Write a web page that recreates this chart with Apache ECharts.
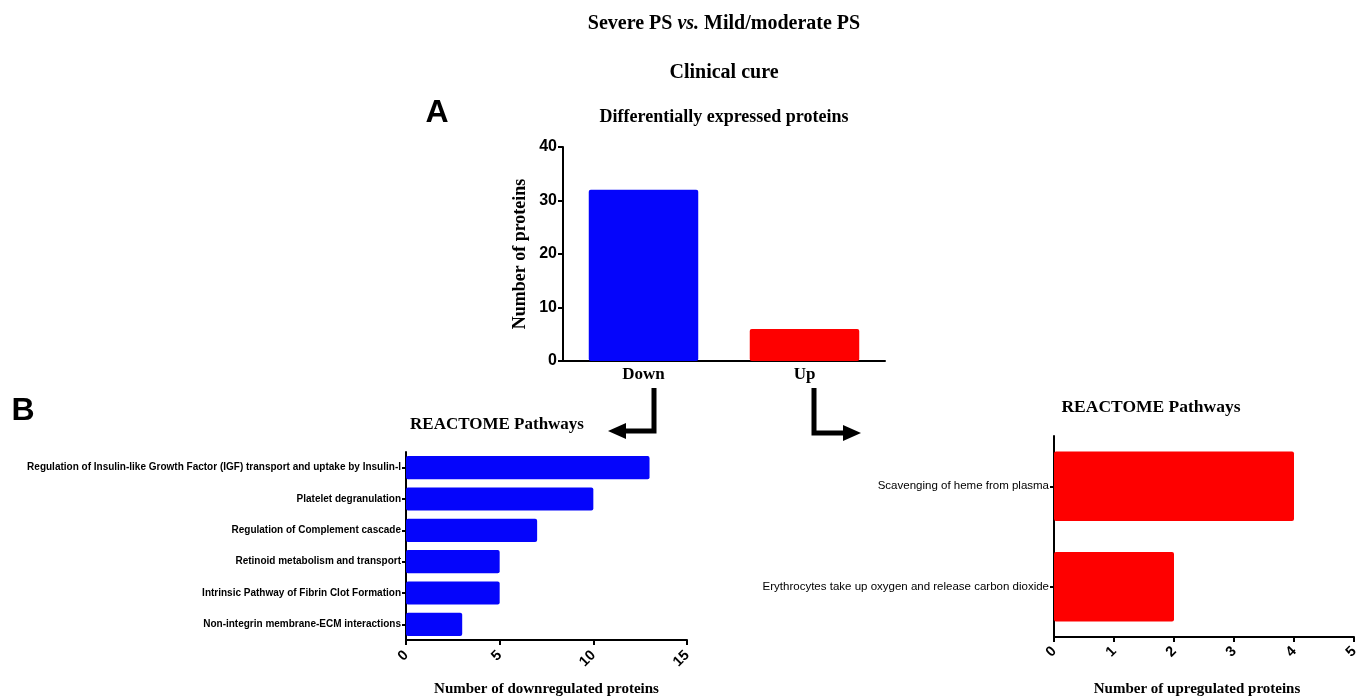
<!DOCTYPE html>
<html>
<head>
<meta charset="utf-8">
<script src="https://cdn.jsdelivr.net/npm/echarts@6/dist/echarts.min.js"></script>
<style>
html,body{margin:0;padding:0;background:#fff;}
#chart{width:1365px;height:698px;}
</style>
</head>
<body>
<div id="chart"></div>
<script>
// ---- Data ----
const deCategories = ['Down', 'Up'];
const deValues = [32, 6];
const deTicks = [0, 10, 20, 30, 40];

const downPathways = [
  'Regulation of Insulin-like Growth Factor (IGF) transport and uptake by Insulin-l',
  'Platelet degranulation',
  'Regulation of Complement cascade',
  'Retinoid metabolism and transport',
  'Intrinsic Pathway of Fibrin Clot Formation',
  'Non-integrin membrane-ECM interactions'
];
const downValues = [13, 10, 7, 5, 5, 3];

const upPathways = [
  'Scavenging of heme from plasma',
  'Erythrocytes take up oxygen and release carbon dioxide'
];
const upValues = [4, 2];

const BLUE = '#0505fb';
const RED = '#fe0000';
const SERIF = '"Liberation Serif", "Times New Roman", serif';
const SANS = '"Liberation Sans", Arial, sans-serif';

const chart = echarts.init(document.getElementById('chart'));

const axisLineStyle = { show: true, lineStyle: { color: '#000', width: 2 } };
const tickStyle = { show: true, length: 5, lineStyle: { color: '#000', width: 2 } };

function ttl(text, left, top, size, family, extra) {
  return Object.assign({ text: text, left: left, top: top, textAlign: 'center', padding: 0,
    textStyle: { fontFamily: family, fontWeight: 'bold', fontSize: size, color: '#000' } }, extra || {});
}

const option = {
  backgroundColor: '#fff',
  animation: false,
  title: [
    ttl('Severe PS {i|vs.} Mild/moderate PS', 724, 14, 20, SERIF, {
      textStyle: { fontFamily: SERIF, fontWeight: 'bold', fontSize: 20, color: '#000',
        rich: { i: { fontFamily: SERIF, fontWeight: 'bold', fontStyle: 'italic', fontSize: 20, color: '#000' } } } }),
    ttl('Clinical cure', 724, 63, 20, SERIF),
    ttl('A', 437, 97, 32, SANS),
    ttl('B', 23, 395, 32, SANS),
    ttl('Differentially expressed proteins', 724, 108, 18, SERIF),
    ttl('REACTOME Pathways', 497, 416, 17, SERIF),
    ttl('REACTOME Pathways', 1151, 398, 17.5, SERIF)
  ],
  grid: [
    { left: 563, top: 147, width: 322, height: 214, outerBoundsMode: 'none', containLabel: false },
    { left: 406, top: 452, width: 281, height: 188, outerBoundsMode: 'none', containLabel: false },
    { left: 1054, top: 436, width: 300, height: 201, outerBoundsMode: 'none', containLabel: false }
  ],
  xAxis: [
    { gridIndex: 0, type: 'category', data: deCategories,
      axisLine: axisLineStyle, axisTick: { show: false },
      axisLabel: { fontFamily: SERIF, fontWeight: 'bold', fontSize: 17, color: '#000', margin: 5 } },
    { gridIndex: 1, type: 'value', min: 0, max: 15, interval: 5,
      axisLine: axisLineStyle, axisTick: tickStyle, splitLine: { show: false },
      axisLabel: { rotate: 45, fontFamily: SANS, fontWeight: 'bold', fontSize: 14.5, color: '#000', margin: 13 },
      name: 'Number of downregulated proteins', nameLocation: 'middle', nameGap: 42,
      nameTextStyle: { fontFamily: SERIF, fontWeight: 'bold', fontSize: 15, color: '#000' } },
    { gridIndex: 2, type: 'value', min: 0, max: 5, interval: 1,
      axisLine: axisLineStyle, axisTick: tickStyle, splitLine: { show: false },
      axisLabel: { rotate: 45, fontFamily: SANS, fontWeight: 'bold', fontSize: 14.5, color: '#000', margin: 12 },
      name: 'Number of upregulated proteins', nameLocation: 'middle', nameGap: 45,
      nameTextStyle: { fontFamily: SERIF, fontWeight: 'bold', fontSize: 15, color: '#000', padding: [0, 14, 0, 0] } }
  ],
  yAxis: [
    { gridIndex: 0, type: 'value', min: deTicks[0], max: deTicks[deTicks.length - 1], interval: 10,
      axisLine: axisLineStyle, axisTick: tickStyle, splitLine: { show: false },
      axisLabel: { fontFamily: SANS, fontWeight: 'bold', fontSize: 16, color: '#000', margin: 6 },
      name: 'Number of proteins', nameLocation: 'middle', nameGap: 34,
      nameTextStyle: { fontFamily: SERIF, fontWeight: 'bold', fontSize: 18, color: '#000' } },
    { gridIndex: 1, type: 'category', data: downPathways, inverse: true,
      axisLine: axisLineStyle, axisTick: { show: true, alignWithLabel: true, length: 4, lineStyle: { color: '#000', width: 2 } },
      axisLabel: { fontFamily: SANS, fontWeight: 'bold', fontSize: 10, color: '#000', margin: 5 } },
    { gridIndex: 2, type: 'category', data: upPathways, inverse: true,
      axisLine: axisLineStyle, axisTick: { show: true, alignWithLabel: true, length: 4, lineStyle: { color: '#000', width: 2 } },
      axisLabel: { fontFamily: SANS, fontWeight: 'normal', fontSize: 11.5, color: '#000', margin: 5 } }
  ],
  series: [
    { type: 'bar', xAxisIndex: 0, yAxisIndex: 0, data: deValues.map((v, i) => ({ value: v, itemStyle: { color: i === 0 ? BLUE : RED } })),
      barWidth: '68%', itemStyle: { borderRadius: 2 } },
    { type: 'bar', xAxisIndex: 1, yAxisIndex: 1, data: downValues, barWidth: '74%',
      itemStyle: { color: BLUE, borderRadius: 2 } },
    { type: 'bar', xAxisIndex: 2, yAxisIndex: 2, data: upValues, barWidth: '69%',
      itemStyle: { color: RED, borderRadius: 2 } }
  ],
  graphic: [
    // Down arrow
    { type: 'polyline', shape: { points: [[654, 388], [654, 431], [622, 431]] },
      style: { stroke: '#000', lineWidth: 5, fill: null, lineJoin: 'miter' } },
    { type: 'polygon', shape: { points: [[608, 431], [626, 423], [626, 439]] }, style: { fill: '#000' } },
    // Up arrow
    { type: 'polyline', shape: { points: [[814, 388], [814, 433], [846, 433]] },
      style: { stroke: '#000', lineWidth: 5, fill: null, lineJoin: 'miter' } },
    { type: 'polygon', shape: { points: [[861, 433], [843, 425], [843, 441]] }, style: { fill: '#000' } }
  ]
};
chart.setOption(option);
</script>
</body>
</html>
